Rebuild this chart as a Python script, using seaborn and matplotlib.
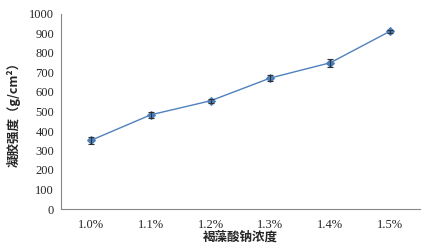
import numpy as np
import pandas as pd
import matplotlib
matplotlib.use("Agg")
import matplotlib.pyplot as plt
import seaborn as sns

# data
concentration = ["1.0%", "1.1%", "1.2%", "1.3%", "1.4%", "1.5%"]
strength = [352, 483, 555, 672, 750, 912]
strength_err = [18, 14, 9, 14, 20, 7]

sns.set_style("white")
plt.rcParams['font.family'] = ['Liberation Serif', 'Noto Sans CJK SC', 'DejaVu Sans']

df = pd.DataFrame({"pos": np.arange(len(concentration)), "strength": strength})

fig = plt.figure(figsize=(4.25, 2.5), dpi=100)
ax = fig.add_axes([0.1435, 0.164, 0.845, 0.78])

sns.lineplot(data=df, x="pos", y="strength", ax=ax, color="#4F81BD",
             linewidth=1.0, marker="D", markersize=4.5,
             markerfacecolor="#4A7EBB", markeredgecolor="#4A7EBB")
ax.errorbar(df["pos"], df["strength"], yerr=strength_err, fmt="none",
            ecolor="#333333", elinewidth=0.8, capsize=2.5, capthick=0.8)

ax.set_xlim(-0.5, len(concentration) - 0.5)
ax.set_ylim(0, 1000)
ax.set_yticks(np.arange(0, 1001, 100))
ax.set_xticks(df["pos"])
ax.set_xticklabels(concentration)
ax.set_xticks(np.arange(-0.5, len(concentration), 1), minor=True)
ax.tick_params(axis="x", which="major", length=0, pad=7, labelsize=9)
ax.tick_params(axis="x", which="minor", length=3, color="#888888", direction="out")
ax.tick_params(axis="y", length=3, color="#888888", direction="out", labelsize=9, pad=2)

for side in ["top", "right"]:
    ax.spines[side].set_visible(False)
for side in ["left", "bottom"]:
    ax.spines[side].set_color("#888888")
    ax.spines[side].set_linewidth(0.8)

ax.set_xlabel("褐藻酸钠浓度", fontsize=9, fontweight="bold",
              family=['Noto Sans CJK SC', 'DejaVu Sans'], labelpad=0)
ax.set_ylabel("凝胶强度（g/cm²）", fontsize=9, fontweight="bold",
              family=['Noto Sans CJK SC', 'DejaVu Sans'], labelpad=6)

fig.savefig("out.png", dpi=100)
